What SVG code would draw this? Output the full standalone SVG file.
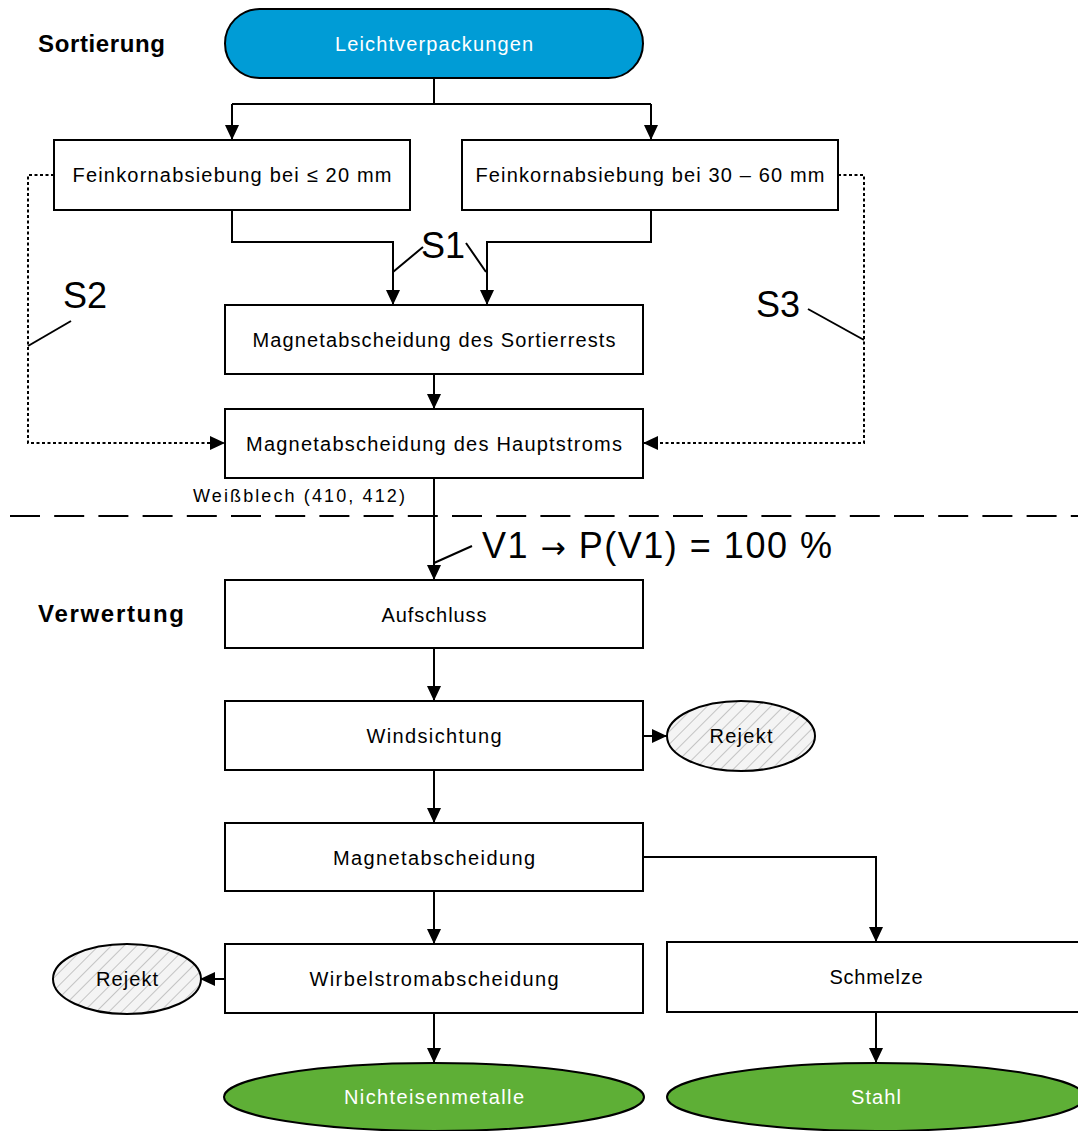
<svg xmlns="http://www.w3.org/2000/svg" width="1078" height="1131" viewBox="0 0 1078 1131">
<style>
.box{fill:#fff;stroke:#000;stroke-width:2}
.t{font-family:"Liberation Sans",Arial,sans-serif;font-size:20px;fill:#000;text-anchor:middle}
.tw{font-family:"Liberation Sans",Arial,sans-serif;font-size:20px;fill:#fff;text-anchor:middle}
.h{font-family:"Liberation Sans",Arial,sans-serif;font-size:24px;font-weight:bold;fill:#000}
.big{font-family:"Liberation Sans",Arial,sans-serif;font-size:36px;fill:#000}
.c{fill:none;stroke:#000;stroke-width:2}
.d{fill:none;stroke:#000;stroke-width:2;stroke-dasharray:3 2.5}
.lead{fill:none;stroke:#000;stroke-width:2}
</style>
<defs>
<marker id="ah" markerUnits="userSpaceOnUse" markerWidth="16" markerHeight="16" refX="15" refY="7" orient="auto">
<path d="M0,0 L15,7 L0,14 z" fill="#000"/>
</marker>
<pattern id="hatch" patternUnits="userSpaceOnUse" width="9" height="9" patternTransform="rotate(45)">
<rect width="9" height="9" fill="#f4f4f4"/>
<line x1="0" y1="0" x2="0" y2="9" stroke="#c4c4c4" stroke-width="2"/>
</pattern>
</defs>
<rect width="1078" height="1131" fill="#fff"/>

<text class="h" x="38" y="52" textLength="127">Sortierung</text>
<text class="h" x="38" y="622" textLength="146">Verwertung</text>

<g id="connectors">
<path class="c" d="M434,78 V104 M232,104 H651" />
<path class="c" d="M232,104 V140" marker-end="url(#ah)"/>
<path class="c" d="M651,104 V140" marker-end="url(#ah)"/>
<path class="c" d="M232,210 V242 H393 V305" marker-end="url(#ah)"/>
<path class="c" d="M651,210 V242 H487 V305" marker-end="url(#ah)"/>
<path class="c" d="M434,374 V409" marker-end="url(#ah)"/>
<path class="d" d="M54,175 H28 V443 H225" marker-end="url(#ah)"/>
<path class="d" d="M838,175 H864 V443 H643" marker-end="url(#ah)"/>
<path class="c" d="M434,478 V580" marker-end="url(#ah)"/>
<path class="c" d="M434,648 V701" marker-end="url(#ah)"/>
<path class="c" d="M643,736 H667" marker-end="url(#ah)"/>
<path class="c" d="M434,770 V823" marker-end="url(#ah)"/>
<path class="c" d="M643,857 H876 V942" marker-end="url(#ah)"/>
<path class="c" d="M434,891 V944" marker-end="url(#ah)"/>
<path class="c" d="M225,979 H200" marker-end="url(#ah)"/>
<path class="c" d="M434,1013 V1063" marker-end="url(#ah)"/>
<path class="c" d="M876,1012 V1063" marker-end="url(#ah)"/>
<line x1="10" y1="516" x2="1078" y2="516" stroke="#000" stroke-width="2" stroke-dasharray="30 14.2"/>
<path class="lead" d="M393,272 L423,247 M486,272 L466,243"/>
<path class="lead" d="M28,346 L71,321"/>
<path class="lead" d="M864,340 L808,309"/>
<path class="lead" d="M434,563 L472,546"/>
</g>

<text class="big" x="421" y="258">S1</text>
<text class="big" x="63" y="308">S2</text>
<text class="big" x="756" y="317">S3</text>
<text class="big" x="482" y="558" textLength="350">V1 <tspan style="font-family:'DejaVu Sans',sans-serif;font-size:30px">→</tspan> P(V1) = 100 %</text>
<text class="t" x="193" y="502" style="text-anchor:start;font-size:18px" textLength="212">Weißblech (410, 412)</text>

<g id="n-leicht">
<rect x="225" y="9" width="418" height="69" rx="34.5" fill="#009CD6" stroke="#000" stroke-width="2"/>
<text class="tw" x="434" y="51" textLength="198">Leichtverpackungen</text>
</g>
<g id="n-fein20">
<rect class="box" x="54" y="140" width="356" height="70"/>
<text class="t" x="232" y="182" textLength="319">Feinkornabsiebung bei ≤ 20 mm</text>
</g>
<g id="n-fein3060">
<rect class="box" x="462" y="140" width="376" height="70"/>
<text class="t" x="650" y="182" textLength="349">Feinkornabsiebung bei 30 – 60 mm</text>
</g>
<g id="n-sortierrest">
<rect class="box" x="225" y="305" width="418" height="69"/>
<text class="t" x="434" y="347" textLength="363">Magnetabscheidung des Sortierrests</text>
</g>
<g id="n-hauptstrom">
<rect class="box" x="225" y="409" width="418" height="69"/>
<text class="t" x="434" y="451" textLength="376">Magnetabscheidung des Hauptstroms</text>
</g>
<g id="n-aufschluss">
<rect class="box" x="225" y="580" width="418" height="68"/>
<text class="t" x="434" y="622" textLength="105">Aufschluss</text>
</g>
<g id="n-wind">
<rect class="box" x="225" y="701" width="418" height="69"/>
<text class="t" x="434" y="743" textLength="135">Windsichtung</text>
</g>
<g id="n-rejekt1">
<ellipse cx="741" cy="736" rx="74" ry="35" fill="url(#hatch)" stroke="#000" stroke-width="2"/>
<text class="t" x="741" y="743" textLength="63">Rejekt</text>
</g>
<g id="n-magnet">
<rect class="box" x="225" y="823" width="418" height="68"/>
<text class="t" x="434" y="865" textLength="202">Magnetabscheidung</text>
</g>
<g id="n-wirbel">
<rect class="box" x="225" y="944" width="418" height="69"/>
<text class="t" x="434" y="986" textLength="249">Wirbelstromabscheidung</text>
</g>
<g id="n-rejekt2">
<ellipse cx="127" cy="979" rx="74" ry="35" fill="url(#hatch)" stroke="#000" stroke-width="2"/>
<text class="t" x="127" y="986" textLength="62">Rejekt</text>
</g>
<g id="n-schmelze">
<rect class="box" x="667" y="942" width="420" height="70"/>
<text class="t" x="876" y="984" textLength="93">Schmelze</text>
</g>
<g id="n-ne">
<ellipse cx="434" cy="1097" rx="210" ry="34" fill="#5EAF36" stroke="#000" stroke-width="2"/>
<text class="tw" x="434" y="1104" textLength="180">Nichteisenmetalle</text>
</g>
<g id="n-stahl">
<ellipse cx="876" cy="1097" rx="209" ry="34" fill="#5EAF36" stroke="#000" stroke-width="2"/>
<text class="tw" x="876" y="1104" textLength="50">Stahl</text>
</g>
</svg>
